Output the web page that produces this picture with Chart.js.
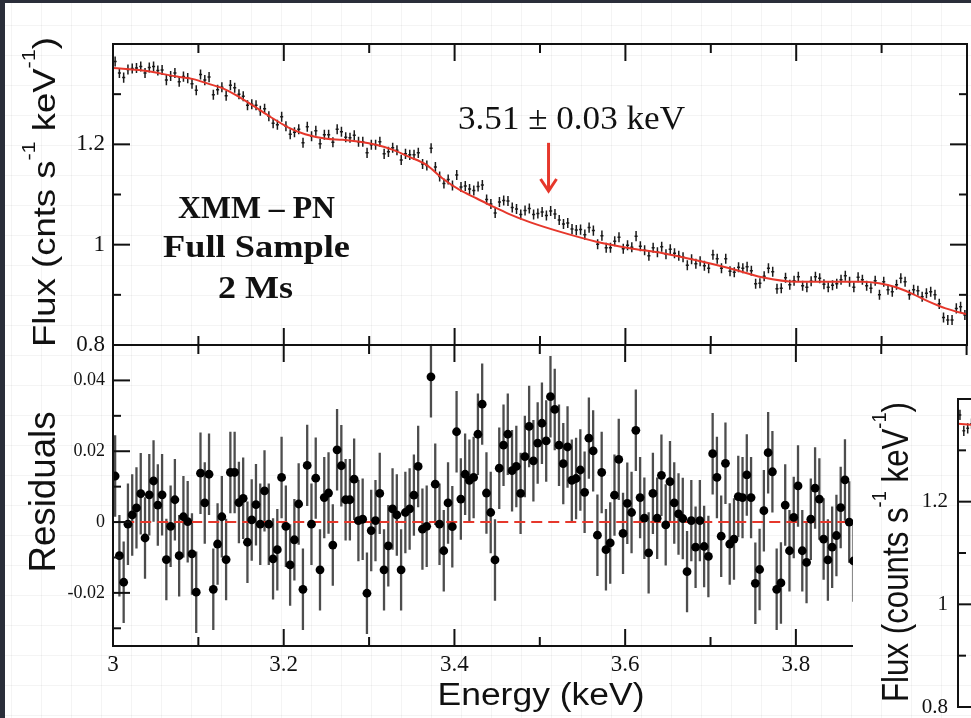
<!DOCTYPE html>
<html><head><meta charset="utf-8">
<script src="https://cdn.jsdelivr.net/npm/chart.js@4.4.1/dist/chart.umd.min.js"></script>
<style>
html,body{margin:0;padding:0;}
body{width:971px;height:718px;overflow:hidden;position:relative;background:#2a2e3a;}
#page{position:absolute;left:5px;top:3px;width:966px;height:715px;background-color:#fff;
 background-image:linear-gradient(to right, rgba(0,0,0,0.045) 1px, transparent 1px),linear-gradient(to bottom, rgba(0,0,0,0.045) 1px, transparent 1px);
 background-size:30px 30px;background-position:6px 22px;}
canvas{position:absolute;left:0;top:0;}
#ov{position:absolute;left:853px;top:355px;width:118px;height:363px;overflow:hidden;background-color:#fff;
 background-image:linear-gradient(to right, rgba(0,0,0,0.045) 1px, transparent 1px),linear-gradient(to bottom, rgba(0,0,0,0.045) 1px, transparent 1px);
 background-size:30px 30px;background-position:28px 0px;}
</style></head>
<body>
<div id="page"></div>
<canvas id="c2" width="971" height="718"></canvas>
<canvas id="c1" width="971" height="718"></canvas>
<div id="ov"><canvas id="c3" width="900" height="420"></canvas></div>
<script>
// ---------------- data ----------------
const energy = [
3.0025,3.0075,3.0125,3.0175,3.0225,3.0275,3.0325,3.0375,3.0425,3.0475,
3.0525,3.0575,3.0625,3.0675,3.0725,3.0775,3.0825,3.0875,3.0925,3.0975,
3.1025,3.1075,3.1125,3.1175,3.1225,3.1275,3.1325,3.1375,3.1425,3.1475,
3.1525,3.1575,3.1625,3.1675,3.1725,3.1775,3.1825,3.1875,3.1925,3.1975,
3.2025,3.2075,3.2125,3.2175,3.2225,3.2275,3.2325,3.2375,3.2425,3.2475,
3.2525,3.2575,3.2625,3.2675,3.2725,3.2775,3.2825,3.2875,3.2925,3.2975,
3.3025,3.3075,3.3125,3.3175,3.3225,3.3275,3.3325,3.3375,3.3425,3.3475,
3.3525,3.3575,3.3625,3.3675,3.3725,3.3775,3.3825,3.3875,3.3925,3.3975,
3.4025,3.4075,3.4125,3.4175,3.4225,3.4275,3.4325,3.4375,3.4425,3.4475,
3.4525,3.4575,3.4625,3.4675,3.4725,3.4775,3.4825,3.4875,3.4925,3.4975,
3.5025,3.5075,3.5125,3.5175,3.5225,3.5275,3.5325,3.5375,3.5425,3.5475,
3.5525,3.5575,3.5625,3.5675,3.5725,3.5775,3.5825,3.5875,3.5925,3.5975,
3.6025,3.6075,3.6125,3.6175,3.6225,3.6275,3.6325,3.6375,3.6425,3.6475,
3.6525,3.6575,3.6625,3.6675,3.6725,3.6775,3.6825,3.6875,3.6925,3.6975,
3.7025,3.7075,3.7125,3.7175,3.7225,3.7275,3.7325,3.7375,3.7425,3.7475,
3.7525,3.7575,3.7625,3.7675,3.7725,3.7775,3.7825,3.7875,3.7925,3.7975,
3.8025,3.8075,3.8125,3.8175,3.8225,3.8275,3.8325,3.8375,3.8425,3.8475,
3.8525,3.8575,3.8625,3.8675,3.8725,3.8775,3.8825,3.8875,3.8925,3.8975,
3.9025,3.9075,3.9125,3.9175,3.9225,3.9275,3.9325,3.9375,3.9425,3.9475,
3.9525,3.9575,3.9625,3.9675,3.9725,3.9775,3.9825,3.9875,3.9925,3.9975];

const flux = [
1.365,1.342,1.333,1.349,1.351,1.352,1.355,1.342,1.353,1.355,
1.347,1.348,1.328,1.336,1.342,1.325,1.335,1.332,1.321,1.308,
1.339,1.328,1.334,1.299,1.309,1.314,1.297,1.318,1.313,1.300,
1.296,1.278,1.280,1.278,1.267,1.271,1.256,1.242,1.239,1.255,
1.236,1.220,1.224,1.230,1.203,1.235,1.216,1.227,1.201,1.219,
1.219,1.204,1.230,1.225,1.214,1.213,1.218,1.205,1.205,1.183,
1.199,1.199,1.205,1.181,1.185,1.193,1.188,1.169,1.181,1.179,
1.179,1.183,1.161,1.158,1.192,1.155,1.136,1.122,1.130,1.118,
1.139,1.115,1.117,1.111,1.108,1.116,1.119,1.090,1.081,1.063,
1.085,1.088,1.087,1.074,1.071,1.060,1.068,1.072,1.060,1.062,
1.065,1.058,1.067,1.061,1.049,1.041,1.043,1.031,1.029,1.030,
1.020,1.034,1.028,1.001,1.018,0.994,0.994,1.007,1.015,0.992,
0.999,0.995,1.017,0.997,0.989,0.978,0.994,0.985,0.996,0.981,
0.991,0.983,0.978,0.975,0.959,0.971,0.962,0.967,0.958,0.953,
0.980,0.972,0.953,0.972,0.947,0.945,0.955,0.953,0.956,0.948,
0.922,0.923,0.937,0.953,0.946,0.912,0.913,0.934,0.920,0.928,
0.936,0.918,0.915,0.927,0.936,0.933,0.921,0.915,0.919,0.922,
0.930,0.938,0.926,0.915,0.935,0.930,0.918,0.913,0.928,0.900,
0.926,0.910,0.906,0.920,0.933,0.926,0.900,0.910,0.908,0.896,
0.903,0.906,0.900,0.882,0.855,0.850,0.850,0.873,0.876,0.860];

const residual = [
0.013,-0.0095,-0.017,-0.0006,0.002,0.004,0.008,-0.0045,0.0077,0.0116,
0.0048,0.0077,-0.0106,-0.0012,0.0063,-0.0095,0.0015,0.0001,-0.009,-0.0198,
0.0138,0.0054,0.0135,-0.019,-0.0062,0.0015,-0.0106,0.014,0.014,0.0055,
0.0067,-0.0057,0.0006,0.0049,-0.0006,0.0088,-0.0006,-0.0104,-0.0078,0.0126,
-0.0012,-0.0121,-0.005,0.0051,-0.019,0.016,-0.0006,0.0124,-0.0135,0.0069,
0.0082,-0.0065,0.0204,0.0159,0.0063,0.0063,0.0121,0.0004,0.0008,-0.0201,
-0.0024,0.0004,0.0081,-0.0135,-0.0067,0.0037,0.002,-0.0135,0.0027,0.0037,
0.0076,0.0157,-0.002,-0.0012,0.041,0.0107,-0.0006,-0.0081,0.0054,-0.0013,
0.0255,0.0065,0.0135,0.0118,0.0126,0.0248,0.0333,0.0082,0.0027,-0.0107,
0.0152,0.0217,0.0248,0.0145,0.0157,0.0081,0.0185,0.027,0.0173,0.0223,
0.0279,0.0229,0.0354,0.0318,0.0217,0.0165,0.0212,0.0118,0.0123,0.0147,
0.0084,0.0237,0.0201,-0.0037,0.014,-0.0078,-0.0059,0.0076,0.0177,-0.0032,
0.0053,0.0027,0.0259,0.0069,0.0011,-0.0087,0.0081,0.0011,0.0132,-0.0008,
0.0114,0.0054,0.0023,0.001,-0.014,0.0004,-0.0071,0.0004,-0.0069,-0.0097,
0.0193,0.0126,-0.004,0.0166,-0.0062,-0.0048,0.0072,0.0069,0.0133,0.0069,
-0.0173,-0.0134,0.0032,0.0196,0.0142,-0.019,-0.0172,0.0048,-0.0081,0.0013,
0.0102,-0.0081,-0.0114,0.0008,0.0096,0.0065,-0.0048,-0.0107,-0.0071,-0.0038,
0.0041,0.0119,0.0,-0.011];

const modelE = [3.000,3.035,3.075,3.094,3.113,3.128,3.145,3.165,3.185,3.205,3.225,3.250,3.269,3.289,3.308,3.328,3.347,3.367,3.386,3.406,3.426,3.445,3.464,3.488,3.527,3.566,3.605,3.644,3.683,3.722,3.760,3.800,3.839,3.877,3.897,3.917,3.936,3.956,3.975,4.000];
const modelFlux = [1.352,1.347,1.335,1.330,1.320,1.312,1.297,1.276,1.254,1.234,1.220,1.211,1.209,1.205,1.199,1.189,1.175,1.159,1.132,1.109,1.092,1.076,1.061,1.045,1.024,1.006,0.993,0.983,0.969,0.953,0.935,0.926,0.926,0.926,0.923,0.915,0.902,0.886,0.873,0.861];

const zeroLineE = [3.012, 4.0];
const zeroLineY = [0, 0];

const fluxErr = 0.010;
const resErr = 0.0115;

const fluxTicks = [0.8, 1.0, 1.2];
const fluxTickLabels = ['0.8', '1', '1.2'];
const fluxMinor = [0.9, 1.1, 1.3];
const resTicks = [-0.02, 0, 0.02, 0.04];
const resTickLabels = ['-0.02', '0', '0.02', '0.04'];
const resMinor = [-0.03, -0.01, 0.01, 0.03];
const eTicks = [3, 3.2, 3.4, 3.6, 3.8];
const eTickLabels = ['3', '3.2', '3.4', '3.6', '3.8'];
const eMajor = [3.2, 3.4, 3.6, 3.8];
const eMinor = [3.1, 3.3, 3.5, 3.7, 3.9];

const lineEnergy = 3.51;
const arrowFrom = 1.203;
const arrowTo = 1.105;

// partially visible second spectrum (bottom right)
const overlayE = [3.0025, 3.0075, 3.0125, 3.0175];
const overlayFlux = [1.369, 1.338, 1.343, 1.352];
const overlayModelE = [3.0, 3.05];
const overlayModel = [1.352, 1.346];

// ---------------- style / helpers ----------------
const RED = '#e6372b';
const SERIF = "'Liberation Serif','Times New Roman',serif";
const SANS = "'Liberation Sans',Arial,Helvetica,sans-serif";
const xy = (xs, ys) => ys.map((y, i) => ({x: xs[i], y}));

function fitText(ctx, text, px, py, len, font, rotate) {
  ctx.save();
  ctx.font = font; ctx.fillStyle = '#111';
  const w = ctx.measureText(text).width;
  ctx.translate(px, py);
  if (rotate) ctx.rotate(-Math.PI / 2);
  ctx.scale(len / w, 1);
  ctx.textAlign = 'center'; ctx.textBaseline = 'alphabetic';
  ctx.fillText(text, 0, 0);
  ctx.restore();
}
function richText(ctx, parts, px, py, len, size, family, rotate) {
  ctx.save();
  const main = size + 'px ' + family, sup = Math.round(size * 0.58) + 'px ' + family;
  let total = 0;
  const ws = parts.map(p => { ctx.font = p.sup ? sup : main; const w = ctx.measureText(p.t).width; total += w; return w; });
  ctx.translate(px, py);
  if (rotate) ctx.rotate(-Math.PI / 2);
  ctx.scale(len / total, 1);
  ctx.fillStyle = '#111'; ctx.textAlign = 'left'; ctx.textBaseline = 'alphabetic';
  let x = -total / 2;
  parts.forEach((p, i) => { ctx.font = p.sup ? sup : main; ctx.fillText(p.t, x, p.sup ? -size * 0.62 : 0); x += ws[i]; });
  ctx.restore();
}

const framePlugin = {
  id: 'frame',
  afterDraw(chart, args, o) {
    const {ctx, chartArea: a, scales: {x, y}} = chart;
    ctx.save();
    ctx.strokeStyle = '#111'; ctx.lineWidth = 2;
    const seg = (x1, y1, x2, y2) => { ctx.beginPath(); ctx.moveTo(x1, y1); ctx.lineTo(x2, y2); ctx.stroke(); };
    [[o.yMajor, 17], [o.yMinor, 8]].forEach(([vals, len]) => vals.forEach(v => {
      const py = y.getPixelForValue(v);
      seg(a.left, py, a.left + len, py);
      if (o.right) seg(a.right, py, a.right - len, py);
    }));
    [[o.xMajor, 17], [o.xMinor, 9]].forEach(([vals, len]) => vals.forEach(v => {
      const px = x.getPixelForValue(v);
      seg(px, a.top, px, a.top + len);
      seg(px, a.bottom, px, a.bottom - len);
    }));
    ctx.strokeRect(a.left, a.top, a.right - a.left, a.bottom - a.top);
    ctx.restore();
  }
};

const errPlugin = {
  id: 'err',
  beforeDatasetsDraw(chart, args, o) {
    const {ctx, chartArea: a, scales: {x, y}} = chart;
    const data = chart.data.datasets[o.dataset].data;
    ctx.save();
    ctx.beginPath(); ctx.rect(a.left, a.top, a.right - a.left, a.bottom - a.top); ctx.clip();
    ctx.strokeStyle = o.color; ctx.lineWidth = o.width;
    data.forEach(p => {
      const px = x.getPixelForValue(p.x);
      ctx.beginPath();
      ctx.moveTo(px, y.getPixelForValue(p.y - o.err));
      ctx.lineTo(px, y.getPixelForValue(p.y + o.err));
      if (o.half) {
        const py = y.getPixelForValue(p.y);
        ctx.moveTo(x.getPixelForValue(p.x - o.half), py);
        ctx.lineTo(x.getPixelForValue(p.x + o.half), py);
      }
      ctx.stroke();
    });
    ctx.restore();
  }
};

const topAnnot = {
  id: 'topAnnot',
  afterDraw(chart) {
    const {ctx, scales: {x, y}} = chart;
    fitText(ctx, '3.51 ± 0.03 keV', 571.5, 129, 227, '34px ' + SERIF);
    fitText(ctx, 'XMM – PN', 256.5, 218, 157, 'bold 32px ' + SERIF);
    fitText(ctx, 'Full Sample', 256.5, 257, 187, 'bold 32px ' + SERIF);
    fitText(ctx, '2 Ms', 255.5, 298, 75, 'bold 32px ' + SERIF);
    const ax = x.getPixelForValue(lineEnergy), y1 = y.getPixelForValue(arrowFrom), y2 = y.getPixelForValue(arrowTo);
    ctx.save();
    ctx.strokeStyle = RED; ctx.lineWidth = 3; ctx.lineCap = 'butt'; ctx.lineJoin = 'miter';
    ctx.beginPath(); ctx.moveTo(ax, y1); ctx.lineTo(ax, y2 - 1); ctx.stroke();
    ctx.beginPath(); ctx.moveTo(ax - 8, y2 - 13); ctx.lineTo(ax, y2 - 1); ctx.lineTo(ax + 8, y2 - 13); ctx.stroke();
    ctx.restore();
    richText(ctx, [{t: 'Flux (cnts s'}, {t: '-1', sup: true}, {t: ' keV'}, {t: '-1', sup: true}, {t: ')'}], 55, 192, 310, 32, SANS, true);
  }
};
const botAnnot = {
  id: 'botAnnot',
  afterDraw(chart) {
    const {ctx} = chart;
    fitText(ctx, 'Residuals', 55, 492, 161, '37px ' + SANS, true);
    fitText(ctx, 'Energy (keV)', 541, 705, 207, '31px ' + SANS, false);
  }
};
const ovAnnot = {
  id: 'ovAnnot',
  afterDraw(chart) {
    richText(chart.ctx, [{t: 'Flux (counts s'}, {t: '-1', sup: true}, {t: ' keV'}, {t: '-1', sup: true}, {t: ')'}], 55, 197, 300, 36, SANS, true);
  }
};

Chart.defaults.animation = false;
const common = {responsive: false, animation: false, events: []};
const yAxis = (min, max, ticks, labels, size, width, pad) => ({
  type: 'linear', min, max,
  afterFit: s => { s.width = width; },
  afterBuildTicks: s => { s.ticks = ticks.map(v => ({value: v})); },
  ticks: {callback: (v, i) => labels[i], font: {family: SERIF, size}, color: '#111', padding: pad, autoSkip: false},
  grid: {display: false, drawTicks: false}, border: {display: false}
});

// ---------------- top panel: flux ----------------
new Chart(document.getElementById('c1'), {
  type: 'scatter',
  data: {datasets: [
    {label: 'model', data: xy(modelE, modelFlux), showLine: true, borderColor: RED, borderWidth: 2, pointRadius: 0, cubicInterpolationMode: 'monotone', fill: false},
    {label: 'data', data: xy(energy, flux), pointRadius: 0, showLine: false}
  ]},
  options: Object.assign({}, common, {
    layout: {padding: {left: 0, top: 44, right: 4, bottom: 373}},
    plugins: {legend: {display: false}, tooltip: {enabled: false},
      frame: {yMajor: [1.0, 1.2], yMinor: fluxMinor, xMajor: eMajor, xMinor: eMinor, right: true},
      err: {dataset: 1, err: fluxErr, half: 0.0018, color: '#1a1a1a', width: 1.5}},
    scales: {
      x: {type: 'linear', min: 3, max: 4, display: false},
      y: yAxis(0.8, 1.4, fluxTicks, fluxTickLabels, 23, 113, 8)
    }
  }),
  plugins: [errPlugin, framePlugin, topAnnot]
});

// ---------------- bottom panel: residuals ----------------
new Chart(document.getElementById('c2'), {
  type: 'scatter',
  data: {datasets: [
    {label: 'residuals', data: xy(energy, residual), pointRadius: 4.4, pointBackgroundColor: '#000', pointBorderWidth: 0, showLine: false},
    {label: 'zero', data: xy(zeroLineE, zeroLineY), showLine: true, borderColor: RED, borderWidth: 2, borderDash: [11, 6], pointRadius: 0}
  ]},
  options: Object.assign({}, common, {
    layout: {padding: {left: 0, top: 345, right: 4, bottom: 32}},
    plugins: {legend: {display: false}, tooltip: {enabled: false},
      frame: {yMajor: resTicks, yMinor: resMinor, xMajor: eMajor, xMinor: eMinor, right: true},
      err: {dataset: 0, err: resErr, half: 0, color: '#4d4d4d', width: 2.3}},
    scales: {
      x: {type: 'linear', min: 3, max: 4,
        afterFit: s => { s.height = 40; },
        afterBuildTicks: s => { s.ticks = eTicks.map(v => ({value: v})); },
        ticks: {callback: (v, i) => eTickLabels[i], font: {family: SERIF, size: 23}, color: '#111', padding: 5, maxRotation: 0, autoSkip: false},
        grid: {display: false, drawTicks: false}, border: {display: false}},
      y: yAxis(-0.035, 0.05, resTicks, resTickLabels, 18, 113, 8)
    }
  }),
  plugins: [errPlugin, framePlugin, botAnnot]
});

// ---------------- overlapping second figure (bottom right) ----------------
new Chart(document.getElementById('c3'), {
  type: 'scatter',
  data: {datasets: [
    {label: 'model', data: xy(overlayModelE, overlayModel), showLine: true, borderColor: RED, borderWidth: 2, pointRadius: 0},
    {label: 'data', data: xy(overlayE, overlayFlux), pointRadius: 0, showLine: false}
  ]},
  options: Object.assign({}, common, {
    layout: {padding: {left: 0, top: 44, right: 20, bottom: 68}},
    plugins: {legend: {display: false}, tooltip: {enabled: false},
      frame: {yMajor: [1.0, 1.2], yMinor: fluxMinor, xMajor: [], xMinor: [], right: false},
      err: {dataset: 1, err: fluxErr, half: 0.0018, color: '#1a1a1a', width: 1.5}},
    scales: {
      x: {type: 'linear', min: 3, max: 4, display: false},
      y: yAxis(0.8, 1.4, fluxTicks, fluxTickLabels, 21, 105, 10)
    }
  }),
  plugins: [errPlugin, framePlugin, ovAnnot]
});
</script>
</body></html>
